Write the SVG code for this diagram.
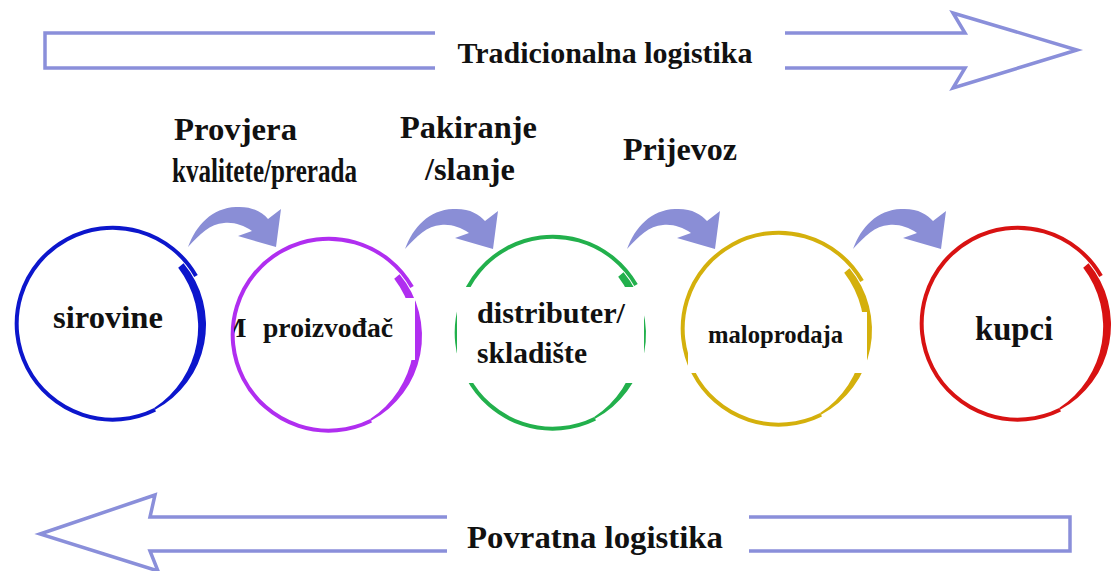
<svg xmlns="http://www.w3.org/2000/svg" xmlns:xlink="http://www.w3.org/1999/xlink" width="1112" height="571" viewBox="0 0 1112 571">
  <style>
    .t { font-family: "Liberation Serif", "Times New Roman", serif; font-weight: bold; fill: #111; }
    .big { fill: #fff; stroke: #8a8fda; stroke-width: 3.5; stroke-linejoin: miter; }
    .fat { fill: #8a8ed6; }
    .mask { fill: #fff; }
  </style>
  <defs>
    <g id="ring">
      <path d="M86,-49 A96 96 0 1 0 45.1,84.8" fill="none" stroke="currentColor" stroke-width="4"/>
      <path d="M73.5,-61.7 A96 96 0 0 1 45.1,84.8 L44.1,83.0 A97 97 0 0 0 68.2,-57.2 Z" fill="currentColor"/>
    </g>
    <path id="curl" d="M188,247 C196,225 212,208 236,207 C252,206 262,212 268,219 L281,209 L276,247 L238,236 L252,231 C243,225 234,222 224,223 C210,224 200,234 188,247 Z"/>
    <clipPath id="mclip"><rect x="234" y="300" width="12" height="45"/></clipPath>
  </defs>

  <g id="traditional-arrow">
    <polygon class="big" points="45,33 965,33 953,13 1077,50 953,88 965,68 45,68"/>
    <rect class="mask" x="435" y="26" width="350" height="50"/>
    <text class="t" x="605" y="63" font-size="30" text-anchor="middle" textLength="295" lengthAdjust="spacingAndGlyphs">Tradicionalna logistika</text>
  </g>

  <g id="reverse-arrow">
    <polygon class="big" points="1070,517 150,517 155,495 40,534 158,571 150,551 1070,551"/>
    <rect class="mask" x="447" y="510" width="302" height="48"/>
    <text class="t" x="595" y="548" font-size="32" text-anchor="middle" textLength="256" lengthAdjust="spacingAndGlyphs">Povratna logistika</text>
  </g>

  <g id="step-labels">
    <text class="t" x="174" y="140" font-size="32" textLength="123" lengthAdjust="spacingAndGlyphs">Provjera</text>
    <text class="t" x="172" y="182" font-size="34" textLength="185" lengthAdjust="spacingAndGlyphs">kvalitete/prerada</text>
    <text class="t" x="400" y="138" font-size="32" textLength="137" lengthAdjust="spacingAndGlyphs">Pakiranje</text>
    <text class="t" x="425" y="180" font-size="32" textLength="90" lengthAdjust="spacingAndGlyphs">/slanje</text>
    <text class="t" x="623" y="160" font-size="32" textLength="114" lengthAdjust="spacingAndGlyphs">Prijevoz</text>
  </g>

  <g id="node-sirovine">
    <use xlink:href="#ring" transform="translate(110,325)" style="color:#0c16cc"/>
    <text class="t" x="53" y="328" font-size="32" textLength="110" lengthAdjust="spacingAndGlyphs">sirovine</text>
  </g>

  <g id="node-proizvodjac">
    <use xlink:href="#ring" transform="translate(326,336)" style="color:#b02ef0"/>
    <rect class="mask" x="246" y="298" width="169" height="62"/>
    <text class="t" x="220" y="337" font-size="28" clip-path="url(#mclip)">M</text>
    <text class="t" x="263" y="337" font-size="28" textLength="130" lengthAdjust="spacingAndGlyphs">proizvođač</text>
  </g>

  <g id="node-distributer">
    <use xlink:href="#ring" transform="translate(550,334)" style="color:#22b04c"/>
    <rect class="mask" x="457" y="287" width="187" height="96"/>
    <text class="t" x="477" y="323" font-size="30" textLength="148" lengthAdjust="spacingAndGlyphs">distributer/</text>
    <text class="t" x="477" y="363" font-size="30" textLength="110" lengthAdjust="spacingAndGlyphs">skladište</text>
  </g>

  <g id="node-maloprodaja">
    <use xlink:href="#ring" transform="translate(776,330)" style="color:#d4b00c"/>
    <rect class="mask" x="688" y="312" width="179" height="61"/>
    <text class="t" x="708" y="343" font-size="25" textLength="135" lengthAdjust="spacingAndGlyphs">maloprodaja</text>
  </g>

  <g id="node-kupci">
    <use xlink:href="#ring" transform="translate(1015,325)" style="color:#d81212"/>
    <text class="t" x="975" y="340" font-size="33" textLength="78" lengthAdjust="spacingAndGlyphs">kupci</text>
  </g>

  <g id="connectors" class="fat">
    <use xlink:href="#curl"/>
    <use xlink:href="#curl" transform="translate(217,2)"/>
    <use xlink:href="#curl" transform="translate(439,2)"/>
    <use xlink:href="#curl" transform="translate(665,2)"/>
  </g>
</svg>
